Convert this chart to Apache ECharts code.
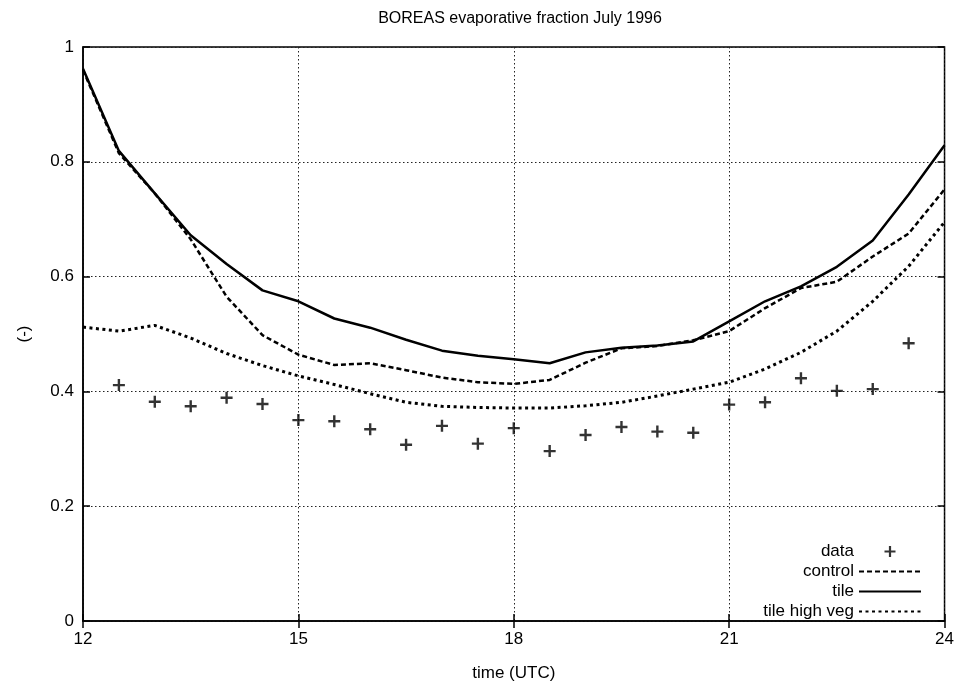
<!DOCTYPE html>
<html>
<head>
<meta charset="utf-8">
<title>BOREAS evaporative fraction July 1996</title>
<script src="https://cdn.jsdelivr.net/npm/echarts@6/dist/echarts.min.js"></script>
<style>
    html,body{margin:0;padding:0;background:#fff;}
    #chart{width:957px;height:687px;}
</style>
</head>
<body>
<div id="chart"></div>
<script>
// model output, every half hour
var hours=[12,12.5,13,13.5,14,14.5,15,15.5,16,16.5,17,17.5,18,18.5,19,19.5,20,20.5,21,21.5,22,22.5,23,23.5,24]
var control=[0.960,0.815,0.745,0.665,0.565,0.498,0.464,0.446,0.449,0.437,0.424,0.416,0.413,0.420,0.450,0.475,0.479,0.489,0.505,0.545,0.580,0.591,0.635,0.675,0.752]
var tile=[0.962,0.819,0.745,0.672,0.622,0.576,0.557,0.527,0.511,0.490,0.471,0.462,0.456,0.449,0.468,0.476,0.480,0.487,0.522,0.557,0.583,0.617,0.663,0.743,0.829]
var tileHighVeg=[0.512,0.505,0.515,0.493,0.466,0.445,0.427,0.412,0.396,0.381,0.374,0.372,0.371,0.371,0.375,0.381,0.392,0.404,0.416,0.439,0.468,0.505,0.557,0.618,0.695]

// observations
var dataHours=[12.5,13,13.5,14,14.5,15,15.5,16,16.5,17,17.5,18,18.5,19,19.5,20,20.5,21,21.5,22,22.5,23,23.5]
var dataObs=[0.411,0.382,0.374,0.389,0.378,0.350,0.348,0.334,0.307,0.340,0.309,0.336,0.296,0.324,0.338,0.330,0.328,0.377,0.381,0.423,0.401,0.404,0.484]

var xTicks=[12,15,18,21,24]
var yTicks=[0,0.2,0.4,0.6,0.8,1]

function pairs(xs,ys){
    let out=[];
    for(let i=0;i<xs.length;i++){
        out.push([xs[i],ys[i]]);
    }
    return out;
}

var plus='path://M0,4H10V6H0Z M4,0H6V10H4Z';
var font='"Liberation Sans", Arial, Helvetica, sans-serif';
var gridDots={show:true,lineStyle:{color:'#222',width:1,type:[1.5,2.5]}};
// hide the marker that echarts puts in the middle of a line legend icon
var noMarker={opacity:0};

var myChart=echarts.init(document.getElementById('chart'));
var option={
    animation:false,
    backgroundColor:'#fff',
    textStyle:{fontFamily:font,color:'#000'},
    title:{
        text:'BOREAS evaporative fraction July 1996',
        left:515,
        top:6,
        textAlign:'center',
        textStyle:{fontSize:16,fontWeight:'normal',color:'#000',fontFamily:font}
    },
    grid:{
        left:83,right:11,top:47,bottom:61,
        show:true,borderColor:'#000',borderWidth:1.5,backgroundColor:'#fff'
    },
    legend:{
        orient:'vertical',
        align:'right',
        right:30,
        top:538,
        itemWidth:62,
        itemHeight:11,
        itemGap:3,
        textStyle:{fontSize:17,lineHeight:14,color:'#000',fontFamily:font},
        data:[
            {name:'data',icon:plus},
            {name:'control',itemStyle:noMarker},
            {name:'tile',itemStyle:noMarker},
            {name:'tile high veg',itemStyle:noMarker}
        ]
    },
    xAxis:[{
        type:'value',
        min:xTicks[0],
        max:xTicks[xTicks.length-1],
        interval:3,
        name:'time (UTC)',
        nameLocation:'middle',
        nameGap:44,
        nameTextStyle:{fontSize:17,color:'#000',fontFamily:font},
        axisLine:{lineStyle:{color:'#000',width:1.5}},
        axisTick:{inside:true,length:7,lineStyle:{color:'#000',width:1.5}},
        axisLabel:{fontSize:17,color:'#000',margin:10,fontFamily:font},
        splitLine:gridDots
    },{
        type:'value',
        position:'top',
        min:xTicks[0],
        max:xTicks[xTicks.length-1],
        interval:3,
        axisLine:{show:false},
        axisTick:{inside:true,length:7,lineStyle:{color:'#000',width:1.5}},
        axisLabel:{show:false},
        splitLine:{show:false}
    }],
    yAxis:[{
        type:'value',
        min:yTicks[0],
        max:yTicks[yTicks.length-1],
        interval:0.2,
        name:'(-)',
        nameLocation:'middle',
        nameGap:50,
        nameRotate:90,
        nameTextStyle:{fontSize:17,color:'#000',fontFamily:font},
        axisLine:{lineStyle:{color:'#000',width:1.5}},
        axisTick:{inside:true,length:7,lineStyle:{color:'#000',width:1.5}},
        axisLabel:{fontSize:17,color:'#000',margin:9,fontFamily:font},
        splitLine:gridDots
    },{
        type:'value',
        position:'right',
        min:yTicks[0],
        max:yTicks[yTicks.length-1],
        interval:0.2,
        axisLine:{show:false},
        axisTick:{inside:true,length:7,lineStyle:{color:'#000',width:1.5}},
        axisLabel:{show:false},
        splitLine:{show:false}
    }],
    series:[{
        name:'data',
        type:'scatter',
        symbol:plus,
        symbolSize:12,
        itemStyle:{color:'#000'},
        data:pairs(dataHours,dataObs)
    },{
        name:'control',
        type:'line',
        symbol:'none',
        itemStyle:{color:'#000'},
        lineStyle:{color:'#000',width:2.5,type:[5,3]},
        data:pairs(hours,control)
    },{
        name:'tile',
        type:'line',
        symbol:'none',
        itemStyle:{color:'#000'},
        lineStyle:{color:'#000',width:2.5,type:'solid'},
        data:pairs(hours,tile)
    },{
        name:'tile high veg',
        type:'line',
        symbol:'none',
        itemStyle:{color:'#000'},
        lineStyle:{color:'#000',width:3,type:[3,3.5]},
        data:pairs(hours,tileHighVeg)
    }]
};
myChart.setOption(option);
window.addEventListener("resize",function(){
    myChart.resize();
});
</script>
</body>
</html>
